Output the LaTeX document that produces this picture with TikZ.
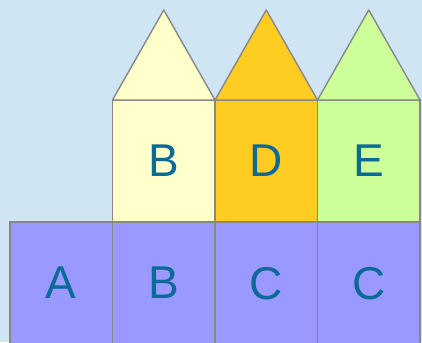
\documentclass[tikz,border=0pt]{standalone}
\usepackage{fontspec}
\setmainfont{Liberation Sans}
\usepackage{xcolor}
\usetikzlibrary{positioning,calc}
\definecolor{skybg}{HTML}{CFE5F3}
\definecolor{cellblue}{HTML}{9999FF}
\definecolor{cellcream}{HTML}{FFFFCC}
\definecolor{cellgold}{HTML}{FFCC22}
\definecolor{cellgreen}{HTML}{CCFF99}
\definecolor{edgegray}{HTML}{888888}
\definecolor{lettercol}{HTML}{0B6A96}

\begin{document}
\begin{tikzpicture}[x=1pt,y=1pt,
  cell/.style={draw=edgegray,line width=1.4pt,minimum width=102.5pt,minimum height=122pt,
    inner sep=0pt,outer sep=0pt,text=lettercol,text depth=0pt,
    font=\fontsize{46}{46}\selectfont},
  roof/.style={draw=edgegray,line width=1.4pt,line join=round}]
  \useasboundingbox[fill=skybg] (0,0) rectangle (422,342);
  \clip (0,0) rectangle (422,342);
  % bottom row
  \node[cell,fill=cellblue,anchor=south west] (a1) at (10,-2) {A};
  \node[cell,fill=cellblue,right=0pt of a1] (b1) {B};
  \node[cell,fill=cellblue,right=0pt of b1] (c1) {C};
  \node[cell,fill=cellblue,right=0pt of c1] (d1) {C};
  % top row
  \node[cell,fill=cellcream,above=0pt of b1] (b2) {B};
  \node[cell,fill=cellgold,above=0pt of c1] (c2) {D};
  \node[cell,fill=cellgreen,above=0pt of d1] (d2) {E};
  % roofs
  \draw[roof,fill=cellcream] (b2.north west) -- ($(b2.north)+(0,90)$) -- (b2.north east) -- cycle;
  \draw[roof,fill=cellgold] (c2.north west) -- ($(c2.north)+(0,90)$) -- (c2.north east) -- cycle;
  \draw[roof,fill=cellgreen] (d2.north west) -- ($(d2.north)+(0,90)$) -- (d2.north east) -- cycle;
\end{tikzpicture}
\end{document}
